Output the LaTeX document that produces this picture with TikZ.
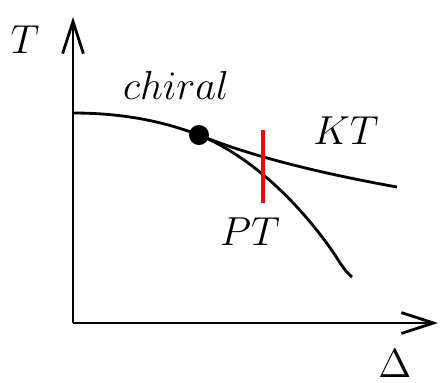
\documentclass[tikz,border=0pt]{standalone}
\usepackage{amsmath}
\usepackage{tikz}
\usetikzlibrary{arrows.meta,calc,positioning}
\tikzset{
  axis/.style={
    -{Straight Barb[length=4mm,width=2.6mm]},
    line width=1pt
  },
  linea/.style={
    line width=1pt,
    black
  },
  corte/.style={
    line width=1.3pt,
    red
  },
  etiqueta/.style={
    inner sep=0pt,
    font=\Large
  }
}
\begin{document}
\begin{tikzpicture}[x=0.0125cm,y=-0.0125cm]
\useasboundingbox (0,0) rectangle (441,382);
\coordinate (o) at (73,323);
\coordinate (ytop) at (73,17);
\coordinate (xend) at (438,323);
\coordinate (ini) at (73,113);
\coordinate (kte) at (397,187);
\coordinate (pte) at (352,277);
\coordinate (rtop) at (263,130);
\coordinate (rbot) at (263,203);
\draw[axis] (o) -- (ytop);
\draw[axis] (o) -- (xend);
\node[etiqueta] (t) at (25,40) {$T$};
\node[etiqueta] (delta) at (395,364) {$\Delta$};
\node[etiqueta] (chiral) at (176,85) {$chiral$};
\node[etiqueta] (kt) at (346,131) {$KT$};
\node[etiqueta] (pt) at (250,232) {$PT$};
\node[circle,fill=black,inner sep=0pt,minimum size=0.25cm] (p) at (199,135) {};
\draw[linea] (ini) .. controls (130,113) and (170,124) .. (p.center)
  .. controls (255,158) and (330,175) .. (kte);
\draw[linea] (p.center) .. controls (265,162) and (315,225) .. (335,255)
  .. controls (342,266) and (346,272) .. (pte);
\draw[corte] (rtop) -- (rbot);
\end{tikzpicture}
\end{document}
